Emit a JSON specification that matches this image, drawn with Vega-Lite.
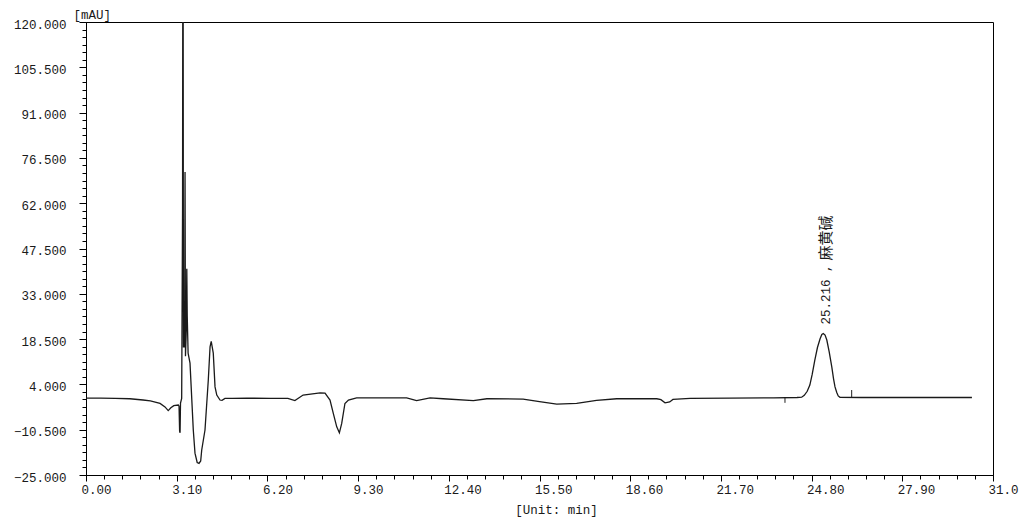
{
  "$schema": "https://vega.github.io/schema/vega-lite/v6.json",
  "width": 907,
  "height": 453,
  "autosize": {"type": "none"},
  "padding": {"left": 86, "top": 22, "right": 31, "bottom": 45},
  "background": "white",
  "config": {
    "view": {"stroke": "#000000", "strokeWidth": 1},
    "axis": {
      "domainColor": "#000000",
      "tickColor": "#000000",
      "labelColor": "#1a1a1a",
      "titleColor": "#1a1a1a",
      "labelFont": "Liberation Mono",
      "titleFont": "Liberation Mono",
      "labelFontSize": 12.5,
      "titleFontSize": 12.5,
      "titleFontWeight": "normal",
      "grid": false,
      "labelOverlap": false,
      "labelBound": false,
      "labelFlush": false
    }
  },
  "layer": [
    {
      "data": {"values": [
        {"t": 0.0, "v": -0.4}, {"t": 0.5, "v": -0.4}, {"t": 1.0, "v": -0.45}, {"t": 1.5, "v": -0.6},
        {"t": 1.95, "v": -1.0}, {"t": 2.2, "v": -1.3}, {"t": 2.53, "v": -2.1}, {"t": 2.7, "v": -3.2},
        {"t": 2.81, "v": -4.4}, {"t": 2.9, "v": -3.5}, {"t": 3.0, "v": -2.8}, {"t": 3.155, "v": -2.6},
        {"t": 3.18, "v": -3.0}, {"t": 3.2, "v": -11.0}, {"t": 3.215, "v": -11.5}, {"t": 3.23, "v": -2.0},
        {"t": 3.27, "v": -0.5}, {"t": 3.3, "v": 60}, {"t": 3.315, "v": 200}, {"t": 3.33, "v": 16},
        {"t": 3.37, "v": 16}, {"t": 3.385, "v": 72}, {"t": 3.4, "v": 13}, {"t": 3.43, "v": 22},
        {"t": 3.445, "v": 41}, {"t": 3.46, "v": 26}, {"t": 3.49, "v": 14}, {"t": 3.555, "v": 10.8},
        {"t": 3.667, "v": -10.6}, {"t": 3.725, "v": -18}, {"t": 3.8, "v": -21}, {"t": 3.862, "v": -21.3},
        {"t": 3.92, "v": -20.5}, {"t": 3.955, "v": -17}, {"t": 4.067, "v": -10.6}, {"t": 4.18, "v": 5.4},
        {"t": 4.24, "v": 16}, {"t": 4.28, "v": 17.8}, {"t": 4.35, "v": 14}, {"t": 4.41, "v": 3.2},
        {"t": 4.47, "v": 0.6}, {"t": 4.58, "v": -1.0}, {"t": 4.65, "v": -1.1}, {"t": 4.75, "v": -0.5},
        {"t": 5.0, "v": -0.5}, {"t": 5.5, "v": -0.4}, {"t": 6.29, "v": -0.5}, {"t": 6.9, "v": -0.5},
        {"t": 7.14, "v": -1.2}, {"t": 7.42, "v": 0.6}, {"t": 8.0, "v": 1.3}, {"t": 8.17, "v": 1.2},
        {"t": 8.34, "v": -1.0}, {"t": 8.45, "v": -5.2}, {"t": 8.57, "v": -9.6}, {"t": 8.66, "v": -11.5},
        {"t": 8.74, "v": -8.5}, {"t": 8.85, "v": -2.1}, {"t": 8.97, "v": -1.0}, {"t": 9.25, "v": -0.3},
        {"t": 10.96, "v": -0.3}, {"t": 11.3, "v": -1.2}, {"t": 11.76, "v": -0.3}, {"t": 12.21, "v": -0.6},
        {"t": 13.24, "v": -1.2}, {"t": 13.7, "v": -0.6}, {"t": 14.94, "v": -0.7}, {"t": 15.5, "v": -1.5},
        {"t": 16.09, "v": -2.3}, {"t": 16.77, "v": -2.1}, {"t": 17.45, "v": -1.1}, {"t": 18.14, "v": -0.6},
        {"t": 19.51, "v": -0.6}, {"t": 19.65, "v": -0.9}, {"t": 19.79, "v": -1.9}, {"t": 19.95, "v": -1.6},
        {"t": 20.06, "v": -0.8}, {"t": 20.65, "v": -0.5}, {"t": 22.0, "v": -0.4}, {"t": 23.5, "v": -0.3},
        {"t": 24.3, "v": -0.2}, {"t": 24.46, "v": -0.1}, {"t": 24.55, "v": 0.5}, {"t": 24.65, "v": 1.8},
        {"t": 24.74, "v": 3.8}, {"t": 24.82, "v": 7.2}, {"t": 24.91, "v": 11.8}, {"t": 25.0, "v": 15.8},
        {"t": 25.09, "v": 18.6}, {"t": 25.15, "v": 20.0}, {"t": 25.2, "v": 20.3}, {"t": 25.26, "v": 19.8},
        {"t": 25.32, "v": 18.2}, {"t": 25.4, "v": 14.5}, {"t": 25.49, "v": 9.6}, {"t": 25.55, "v": 5.8},
        {"t": 25.6, "v": 3.2}, {"t": 25.66, "v": 1.4}, {"t": 25.71, "v": 0.3}, {"t": 25.77, "v": -0.15},
        {"t": 26.5, "v": -0.2}, {"t": 28.0, "v": -0.2}, {"t": 30.28, "v": -0.2}
      ]},
      "mark": {"type": "line", "clip": true, "color": "#1a1a1a", "strokeWidth": 1.3},
      "encoding": {
        "x": {
          "field": "t", "type": "quantitative",
          "scale": {"domain": [0, 31], "nice": false, "zero": false},
          "axis": {
            "orient": "bottom",
            "values": [0, 3.1, 6.2, 9.3, 12.4, 15.5, 18.6, 21.7, 24.8, 27.9, 31],
            "labelExpr": "datum.value >= 30.99 ? '31.0' : format(datum.value, '.2f')",
            "labelAlign": "left",
            "labelOffset": -5,
            "labelBaseline": "top",
            "labelPadding": 2,
            "tickSize": 6,
            "title": "[Unit: min]",
            "titleX": 470,
            "titleY": 34,
            "titleBaseline": "middle",
            "titleAlign": "center"
          }
        },
        "y": {
          "field": "v", "type": "quantitative",
          "scale": {"domain": [-25, 120], "nice": false, "zero": false},
          "axis": {
            "orient": "left",
            "values": [-25, -10.5, 4, 18.5, 33, 47.5, 62, 76.5, 91, 105.5, 120],
            "format": ".3f",
            "tickSize": 7,
            "labelPadding": 13,
            "labelOffset": 2,
            "title": "[mAU]",
            "titleAngle": 0,
            "titleX": -13,
            "titleY": -4,
            "titleAlign": "left",
            "titleBaseline": "alphabetic"
          }
        }
      }
    },
    {
      "data": {"values": [
        {"t": 23.89, "v": -0.3, "v2": -1.9},
        {"t": 26.17, "v": -0.2, "v2": 2.2}
      ]},
      "mark": {"type": "rule", "color": "#1f1f1f", "strokeWidth": 1},
      "encoding": {
        "x": {
          "field": "t", "type": "quantitative",
          "axis": {
            "orient": "bottom",
            "values": [0, 0.62, 1.24, 1.86, 2.48, 3.1, 3.72, 4.34, 4.96, 5.58, 6.2, 6.82, 7.44, 8.06, 8.68, 9.3, 9.92, 10.54, 11.16, 11.78, 12.4, 13.02, 13.64, 14.26, 14.88, 15.5, 16.12, 16.74, 17.36, 17.98, 18.6, 19.22, 19.84, 20.46, 21.08, 21.7, 22.32, 22.94, 23.56, 24.18, 24.8, 25.42, 26.04, 26.66, 27.28, 27.9, 28.52, 29.14, 29.76, 30.38, 31],
            "labels": false, "domain": false, "tickSize": 4, "title": null
          }
        },
        "y": {
          "field": "v", "type": "quantitative",
          "axis": {
            "orient": "left",
            "values": [-25, -22.583, -20.167, -17.75, -15.333, -12.917, -10.5, -8.083, -5.667, -3.25, -0.833, 1.583, 4, 6.417, 8.833, 11.25, 13.667, 16.083, 18.5, 20.917, 23.333, 25.75, 28.167, 30.583, 33, 35.417, 37.833, 40.25, 42.667, 45.083, 47.5, 49.917, 52.333, 54.75, 57.167, 59.583, 62, 64.417, 66.833, 69.25, 71.667, 74.083, 76.5, 78.917, 81.333, 83.75, 86.167, 88.583, 91, 93.417, 95.833, 98.25, 100.667, 103.083, 105.5, 107.917, 110.333, 112.75, 115.167, 117.583, 120],
            "labels": false, "domain": false, "tickSize": 4, "title": null
          }
        },
        "y2": {"field": "v2"}
      }
    },
    {
      "data": {"values": [
        {"t": 25.2, "v": 20.3, "rt": "25.216 ,", "name": "麻黄碱"}
      ]},
      "layer": [
        {
          "mark": {"type": "text", "angle": 270, "align": "left", "baseline": "middle", "dx": 9, "dy": 3, "font": "Liberation Mono", "fontSize": 12.5, "color": "#1a1a1a"},
          "encoding": {
            "x": {"field": "t", "type": "quantitative", "axis": null},
            "y": {"field": "v", "type": "quantitative", "axis": null},
            "text": {"field": "rt"}
          }
        },
        {
          "mark": {"type": "text", "angle": 270, "align": "left", "baseline": "middle", "dx": 73, "dy": 3, "font": "Noto Sans CJK SC", "fontSize": 15, "color": "#1a1a1a"},
          "encoding": {
            "x": {"field": "t", "type": "quantitative", "axis": null},
            "y": {"field": "v", "type": "quantitative", "axis": null},
            "text": {"field": "name"}
          }
        }
      ]
    }
  ],
  "resolve": {"axis": {"x": "independent", "y": "independent"}}
}
